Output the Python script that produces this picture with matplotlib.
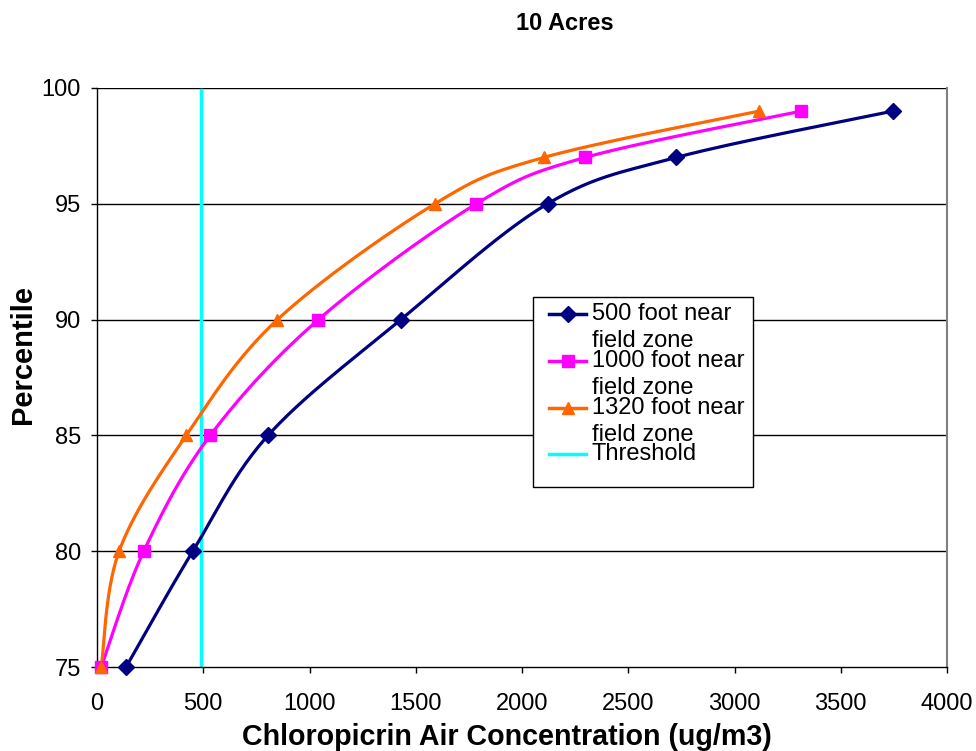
import numpy as np
import matplotlib
matplotlib.use("Agg")
import matplotlib.pyplot as plt
from matplotlib.lines import Line2D
from matplotlib.patches import Rectangle

plt.rcParams['font.family'] = ['Liberation Sans', 'DejaVu Sans']

percentiles = [75, 80, 85, 90, 95, 97, 99]
conc_500 = [137, 451, 805, 1430, 2120, 2725, 3745]
conc_1000 = [20, 220, 533, 1042, 1785, 2297, 3313]
conc_1320 = [20, 104, 420, 849, 1590, 2102, 3115]
threshold_x = 490
threshold_y = [75, 99.9]

series_labels = ["500 foot near\nfield zone", "1000 foot near\nfield zone",
                 "1320 foot near\nfield zone", "Threshold"]
colors = ["#000080", "#FF00FF", "#FF6600", "#00FFFF"]
markers = ["D", "s", "^", None]
x_ticks = [0, 500, 1000, 1500, 2000, 2500, 3000, 3500, 4000]
y_ticks = [75, 80, 85, 90, 95, 100]

W, H = 976, 751
fig = plt.figure(figsize=(W / 100, H / 100), dpi=100)
L, R, T, B = 97, 947, 88, 667
ax = fig.add_axes([L / W, 1 - B / H, (R - L) / W, (B - T) / H])
ax.set_xlim(0, 4000)
ax.set_ylim(75, 100)

sx = (R - L) / 4000.0
sy = (B - T) / 25.0


def smooth(xs, ys, n=30):
    px = np.array(xs, float) * sx
    py = np.array(ys, float) * sy
    P = np.column_stack([px, py])
    out = [P[0]]
    m = len(P)
    for i in range(m - 1):
        p0 = P[i - 1] if i > 0 else P[i]
        p1 = P[i]
        p2 = P[i + 1]
        p3 = P[i + 2] if i + 2 < m else P[i + 1]
        c1 = p1 + (p2 - p0) / 6.0
        c2 = p2 - (p3 - p1) / 6.0
        t = np.linspace(0, 1, n)[1:, None]
        seg = ((1 - t) ** 3) * p1 + 3 * ((1 - t) ** 2) * t * c1 + 3 * (1 - t) * t ** 2 * c2 + t ** 3 * p2
        out.extend(seg)
    out = np.array(out)
    return out[:, 0] / sx, out[:, 1] / sy


for yv in y_ticks[1:]:
    ax.axhline(yv, color="black", lw=1.0, zorder=1)

msizes = {"D": 8, "s": 9, "^": 9}
for xs, c, mk in zip([conc_500, conc_1000, conc_1320], colors[:3], markers[:3]):
    cx, cy = smooth(xs, percentiles)
    ax.plot(cx, cy, color=c, lw=2.3, zorder=3, clip_on=False)
    ax.plot(xs, percentiles, linestyle="none", marker=mk, color=c, markersize=msizes[mk],
            zorder=4, clip_on=False)

ax.plot([threshold_x, threshold_x], threshold_y, color=colors[3], lw=2.5, zorder=2)

ax.set_xticks(x_ticks)
ax.set_yticks(y_ticks)
ax.tick_params(axis="both", direction="out", length=4.5, width=1, labelsize=17, colors="black")
ax.tick_params(axis="x", pad=14)
ax.tick_params(axis="y", pad=7)
ax.spines["top"].set_visible(False)
ax.spines["right"].set_color("#808080")
ax.spines["right"].set_linewidth(1.5)
ax.spines["left"].set_linewidth(1.0)
ax.spines["bottom"].set_linewidth(1.0)

fig.text(565 / W, 1 - 24 / H, "10 Acres", ha="center", va="center",
         fontsize=17, fontweight="bold")
fig.text(507 / W, 1 - 737 / H, "Chloropicrin Air Concentration (ug/m3)",
         ha="center", va="center", fontsize=20.6, fontweight="bold")
fig.text(23 / W, 1 - 355 / H, "Percentile", ha="center", va="center",
         rotation=90, fontsize=21, fontweight="bold")

# legend (Excel style with wrapped labels)
bx0, bx1, by0, by1 = 533, 753, 297, 487
fig.patches.append(Rectangle((bx0 / W, 1 - by1 / H), (bx1 - bx0) / W, (by1 - by0) / H,
                             transform=fig.transFigure, facecolor="white",
                             edgecolor="black", lw=1.0, zorder=10))
entry_y = [314, 361, 408, 454]
for lab, c, mk, ey in zip(series_labels, colors, markers, entry_y):
    fig.add_artist(Line2D([549 / W, 586 / W], [1 - ey / H, 1 - ey / H],
                          transform=fig.transFigure, color=c, lw=2.5, zorder=11))
    if mk:
        fig.add_artist(Line2D([567.5 / W], [1 - ey / H], transform=fig.transFigure,
                              marker=mk, color=c, markersize=msizes[mk], linestyle="none",
                              zorder=12))
    lines = lab.split("\n")
    for k, ln in enumerate(lines):
        fig.text(592 / W, 1 - (ey + 27 * k) / H, ln, ha="left", va="center",
                 fontsize=17, zorder=13)

fig.savefig("out.png", dpi=100)
